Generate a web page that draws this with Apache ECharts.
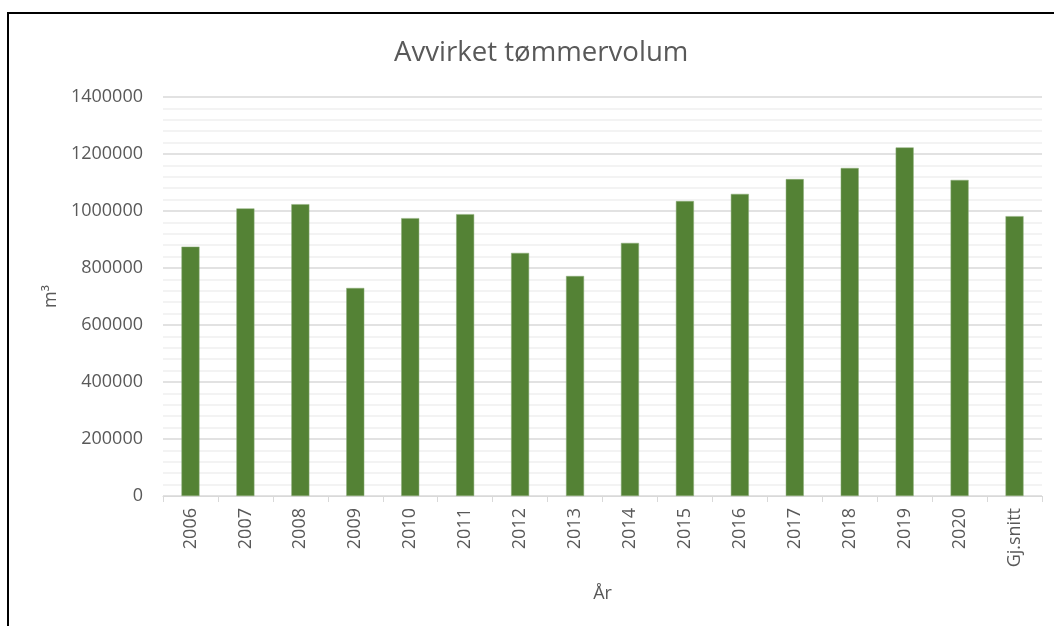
<!DOCTYPE html>
<html>
<head>
<meta charset="utf-8">
<script src="https://cdn.jsdelivr.net/npm/echarts@6/dist/echarts.min.js"></script>
<style>
  html, body { margin: 0; padding: 0; background: #fff; }
  #chart { width: 1054px; height: 626px; }
</style>
</head>
<body>
<div id="chart"></div>
<script>
const years = ['2006', '2007', '2008', '2009', '2010', '2011', '2012', '2013', '2014', '2015', '2016', '2017', '2018', '2019', '2020', 'Gj.snitt']
const volum = [875000, 1009000, 1024000, 730000, 975000, 989000, 853000, 772000, 888000, 1035000, 1060000, 1112000, 1151000, 1223000, 1109000, 982000]
const yMax = 1400000
const yStep = 200000

const chartDom = document.getElementById('chart')
const myChart = echarts.init(chartDom)
const textColor = '#595959'
const font = '"Open Sans", "Noto Sans", sans-serif'

const option = {
  animation: false,
  textStyle: { fontFamily: font, color: textColor },
  graphic: [
    {
      type: 'rect',
      shape: { x: 8, y: 13, width: 1200, height: 800 },
      style: { fill: 'none', stroke: '#000', lineWidth: 2 },
      silent: true
    }
  ],
  title: {
    text: 'Avvirket tømmervolum',
    left: 389,
    top: 34,
    textStyle: { fontFamily: font, fontSize: 27.6, fontWeight: 'normal', color: textColor }
  },
  grid: {
    left: 163,
    right: 12,
    top: 97,
    bottom: 130
  },
  xAxis: {
    type: 'category',
    data: years,
    name: 'År',
    nameLocation: 'middle',
    nameGap: 89,
    nameTextStyle: { fontFamily: font, fontSize: 18, color: textColor },
    axisLine: { lineStyle: { color: '#d9d9d9', width: 1 } },
    axisTick: { show: true, length: 6, lineStyle: { color: '#d9d9d9' } },
    axisLabel: { rotate: 90, margin: 12, fontFamily: font, fontSize: 18, color: textColor }
  },
  yAxis: {
    type: 'value',
    min: 0,
    max: yMax,
    interval: yStep,
    name: 'm³',
    nameLocation: 'middle',
    nameGap: 85,
    nameRotate: 90,
    nameTextStyle: { fontFamily: font, fontSize: 18, color: textColor },
    axisLine: { show: false },
    axisTick: { show: false },
    axisLabel: {
      margin: 20,
      fontFamily: font,
      fontSize: 18,
      color: textColor,
      formatter: function (v) { return String(v) }
    },
    splitLine: { lineStyle: { color: '#d9d9d9', width: 1.5 } },
    minorTick: { show: false, splitNumber: 5 },
    minorSplitLine: { show: true, lineStyle: { color: '#f0f0f0', width: 1.5 } }
  },
  series: [
    {
      name: 'Avvirket',
      type: 'bar',
      data: volum,
      barWidth: 18,
      itemStyle: { color: '#548235', borderColor: '#8fae7a', borderWidth: 0.5 }
    }
  ]
}
myChart.setOption(option)
window.addEventListener('resize', function () {
  myChart.resize()
})
</script>
</body>
</html>
